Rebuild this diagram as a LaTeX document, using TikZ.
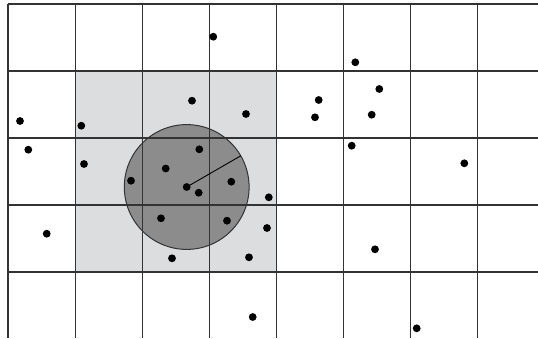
\documentclass[tikz,border=0pt]{standalone}
\usepackage{tikz}
\usetikzlibrary{calc}
\definecolor{cellfill}{HTML}{DCDDDF}
\definecolor{discfill}{HTML}{8C8C8C}
\definecolor{gridcol}{HTML}{333333}
\tikzset{
  gridline/.style={draw=gridcol, line width=1.1pt},
  disc/.style={fill=discfill, draw=gridcol, line width=1pt},
  pt/.style={fill=black},
  radius line/.style={draw=black, line width=0.9pt},
}

\begin{document}
\begin{tikzpicture}[x=1pt, y=-1pt]
  \useasboundingbox (0,0) rectangle (538,338);
  % neighbouring cells
  \fill[cellfill] (75,71) rectangle (276.5,272);
  % search disc
  \coordinate (q) at (186.7,187);
  \path[disc] (q) circle[radius=62.4];
  % grid
  \foreach \i in {0,...,7}
    \draw[gridline] ({8+67.1*\i},4) -- ({8+67.1*\i},338);
  \foreach \j in {0,...,4}
    \draw[gridline] (8,{4+67*\j}) -- (538,{4+67*\j});
  % radius
  \coordinate (rim) at ($(q)+(-30:62.4)$);
  \draw[radius line] (q) -- (rim);
  % points
  \foreach \x/\y in {213.3/36.7, 355.3/62.3, 379.3/89, 192/100.7, 318.7/100,
      246/114, 315/117.3, 371.7/114.7, 20/121, 81.3/125.7, 28.3/149.7,
      84/164, 199.3/149.3, 351.7/145.7, 464.3/163.3, 165.7/168.5,
      131/180.7, 186.7/187, 198.7/192.7, 231.3/181.7, 268.8/197.3,
      46.7/233.7, 161/218.3, 227/220.7, 267/228, 172/258.3, 249/257.3,
      375/249.3, 252.7/317, 416.7/328.3}
    \fill[pt] (\x,\y) circle[radius=3.9];
\end{tikzpicture}
\end{document}
